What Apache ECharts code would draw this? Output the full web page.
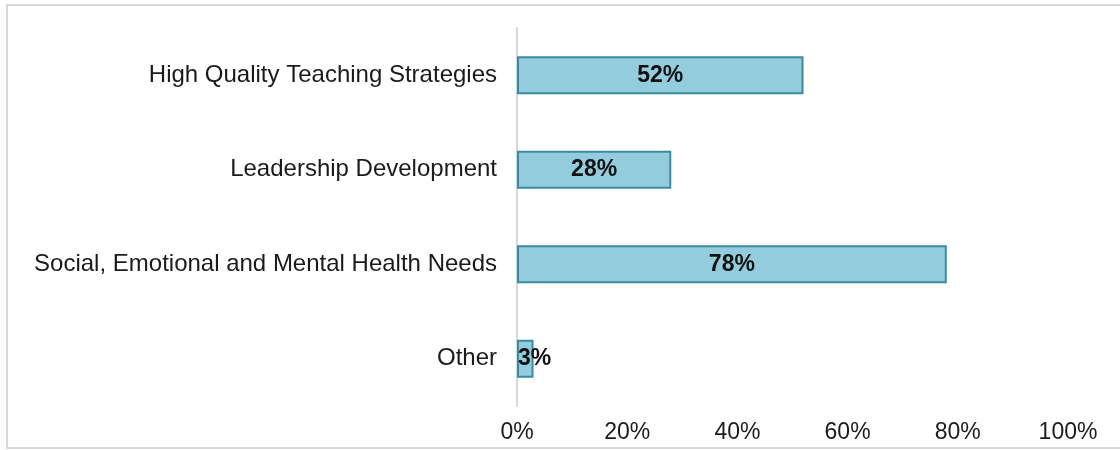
<!DOCTYPE html>
<html>
<head>
<meta charset="utf-8">
<script src="https://cdn.jsdelivr.net/npm/echarts@6/dist/echarts.min.js"></script>
<style>
  html, body { margin: 0; padding: 0; background: #fff; }
  #main { width: 1120px; height: 450px; }
</style>
</head>
<body>
<div id="main"></div>
<script>
const categories = [
  'High Quality Teaching Strategies',
  'Leadership Development',
  'Social, Emotional and Mental Health Needs',
  'Other'
]
const shares = [52, 28, 78, 3]
const xTicks = [0, 20, 40, 60, 80, 100]

const chart = echarts.init(document.getElementById('main'))

// short bars: label starts at the bar's left edge instead of centred
const barData = shares.map(v =>
  v < 10 ? { value: v, label: { position: 'insideLeft', distance: 1 } } : v
)

const option = {
  animation: false,
  textStyle: { fontFamily: 'Liberation Sans, Arial, sans-serif' },
  grid: { left: 517, right: 52, top: 28, bottom: 44 },
  graphic: [
    {
      type: 'rect',
      shape: { x: 7, y: 5, width: 1130, height: 443 },
      style: { fill: 'none', stroke: '#d9d9d9', lineWidth: 2 },
      silent: true
    }
  ],
  xAxis: {
    type: 'value',
    min: xTicks[0],
    max: xTicks[xTicks.length - 1],
    interval: 20,
    axisLine: { show: false },
    axisTick: { show: false },
    splitLine: { show: false },
    axisLabel: {
      formatter: '{value}%',
      color: '#1a1a1a',
      fontSize: 23,
      margin: 15
    }
  },
  yAxis: {
    type: 'category',
    inverse: true,
    data: categories,
    axisLine: { show: true, lineStyle: { color: '#d9d9d9', width: 2 } },
    axisTick: { show: false },
    axisLabel: { color: '#1a1a1a', fontSize: 24, margin: 20 }
  },
  series: [
    {
      type: 'bar',
      data: barData,
      barWidth: '40%',
      itemStyle: { color: '#93cddd', borderColor: '#3a8aa0', borderWidth: 2 },
      label: {
        show: true,
        position: 'inside',
        formatter: '{c}%',
        color: '#111',
        fontWeight: 'bold',
        fontSize: 23
      }
    }
  ]
}
chart.setOption(option)
</script>
</body>
</html>
